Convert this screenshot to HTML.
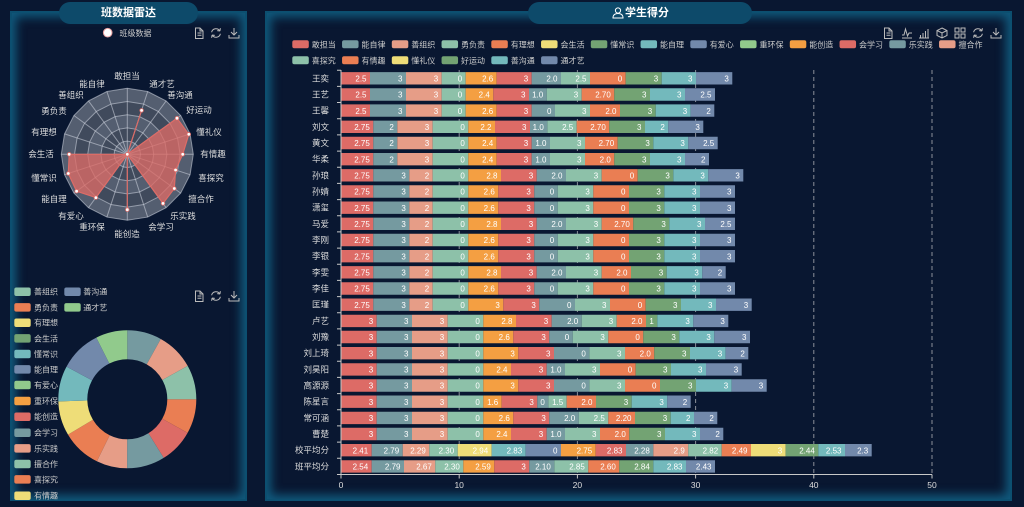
<!DOCTYPE html>
<html><head><meta charset="utf-8">
<style>
html,body{margin:0;padding:0;background:#091731;}
body{width:1024px;height:507px;position:relative;overflow:hidden;font-family:"Liberation Sans","Noto Sans CJK SC",sans-serif;}
.panel{position:absolute;border:2px solid #0c4f70;box-shadow:inset 0 0 10px 4px rgba(20,120,160,.7);box-sizing:border-box;}
.tab{position:absolute;background:#0d4a6a;border-radius:12px;color:#fff;font-weight:bold;font-size:11px;text-align:center;line-height:22px;height:22px;top:2px;}
svg{position:absolute;left:0;top:0;}
text{font-family:"Liberation Sans","Noto Sans CJK SC",sans-serif;}
.a{stroke:#dd6b66;fill:#dd6b66}.b{stroke:#759aa0;fill:#759aa0}.c{stroke:#e69d87;fill:#e69d87}.d{stroke:#8dc1a9;fill:#8dc1a9}
.e{stroke:#ea7e53;fill:#ea7e53}.f{stroke:#eedd78;fill:#eedd78}.g{stroke:#73a373;fill:#73a373}.h{stroke:#73b9bc;fill:#73b9bc}
.i{stroke:#7289ab;fill:#7289ab}.j{stroke:#91ca8c;fill:#91ca8c}.k{stroke:#f49f42;fill:#f49f42}
rect.a,rect.b,rect.c,rect.d,rect.e,rect.f,rect.g,rect.h,rect.i,rect.j,rect.k{stroke:none}
.bars path{stroke-width:12.4;fill:none}
.t text{font-size:8px;fill:#fff;text-anchor:end}
.lg text{font-size:8px;fill:#ccc}
.yl text{font-size:8.5px;fill:#ddd;text-anchor:end}
.xl text{font-size:8.5px;fill:#ddd;text-anchor:middle}
.rl text{font-size:8.5px;fill:#ddd;text-anchor:middle}
.ic path{stroke:#bbb;stroke-width:1;fill:none}
</style></head><body>
<div class="panel" style="left:10px;top:11px;width:237px;height:490px;"></div>
<div class="panel" style="left:265px;top:11px;width:747px;height:490px;"></div>
<div class="tab" style="left:59px;width:139px;">班数据雷达</div>
<div class="tab" style="left:528px;width:224px;"><span style="display:inline-block;width:14px;"></span>学生得分</div>

<svg width="1024" height="507" viewBox="0 0 1024 507">
<defs>
<polygon id="rp" points="0,-66 -20.39,-62.77 -38.8,-53.39 -53.39,-38.8 -62.77,-20.39 -66,0 -62.77,20.39 -53.39,38.8 -38.8,53.39 -20.39,62.77 0,66 20.39,62.77 38.8,53.39 53.39,38.8 62.77,20.39 66,0 62.77,-20.39 53.39,-38.8 38.8,-53.39 20.39,-62.77"/>
<g id="r7" class="bars">
<path class="a" stroke-width="12.4" d="M341 6H373.3"/><path class="b" stroke-width="12.4" d="M373.3 6H409.3"/><path class="c" stroke-width="12.4" d="M409.3 6H432.7"/><path class="d" stroke-width="12.4" d="M432.7 6H468.3"/><path class="k" stroke-width="12.4" d="M468.3 6H498.3"/><path class="a" stroke-width="12.4" d="M498.3 6H534.3"/><path class="b" stroke-width="12.4" d="M534.3 6H557.7"/><path class="d" stroke-width="12.4" d="M557.7 6H593.3"/><path class="e" stroke-width="12.4" d="M593.3 6H629"/><path class="g" stroke-width="12.4" d="M629 6H664.3"/><path class="h" stroke-width="12.4" d="M664.3 6H700"/><path class="i" stroke-width="12.4" d="M700 6H735"/>
<g class="t" transform="translate(-3.5,9.2)"><text x="373.3">2.75</text><text x="409.3">3</text><text x="432.7">2</text><text x="468.3">0</text><text x="498.3">2.6</text><text x="534.3">3</text><text x="557.7">0</text><text x="593.3">3</text><text x="629">0</text><text x="664.3">3</text><text x="700">3</text><text x="735">3</text></g>
</g>
</defs>

<!-- person icon in tab -->
<g transform="translate(618,13)" fill="none" stroke="#fff" stroke-width="1"><circle cx="0" cy="-2.5" r="2.6"/><path d="M-5 5c0-3 2-4.5 5-4.5s5 1.5 5 4.5z"/></g>

<!-- ===== LEFT TOP: radar ===== -->
<circle cx="107.7" cy="32.7" r="4.3" fill="#fff" stroke="#e8a0a0" stroke-width="1"/>
<g class="lg"><text x="119.5" y="35.8">班级数据</text></g>
<g class="ic">
<g transform="translate(199,33)"><path d="M-3.5-5h4.5l3 3v7.5h-7.5z M1-5v3h3 M-1.5 0h4 M-1.5 2.2h4"/></g>
<g transform="translate(216,33)"><path d="M3.9-2A4.5 4.5 0 0 0-4.4-0.8 M-3.9 2A4.5 4.5 0 0 0 4.4 0.8 M3.9-2l0.5-2.8 M3.9-2l-2.7-0.4 M-3.9 2l-0.5 2.8 M-3.9 2l2.7 0.4"/></g>
<g transform="translate(234,33)"><path d="M0-5v7 M-3-1l3 3 3-3 M-5 2v3h10v-3"/></g>
</g>

<g transform="translate(127.3,154.3)">
<use href="#rp" fill="#545e70" stroke="rgba(210,215,225,0.55)" stroke-width="1"/>
<use href="#rp" transform="scale(0.8)" fill="#404a5c" stroke="rgba(210,215,225,0.55)" stroke-width="1.25"/>
<use href="#rp" transform="scale(0.6)" fill="#545e70" stroke="rgba(210,215,225,0.55)" stroke-width="1.667"/>
<use href="#rp" transform="scale(0.4)" fill="#404a5c" stroke="rgba(210,215,225,0.55)" stroke-width="2.5"/>
<use href="#rp" transform="scale(0.2)" fill="#545e70" stroke="rgba(210,215,225,0.55)" stroke-width="5"/>
<path stroke="rgba(210,215,225,0.55)" stroke-width="1" d="M0 0L0 -66M0 0L-20.39 -62.77M0 0L-38.8 -53.39M0 0L-53.39 -38.8M0 0L-62.77 -20.39M0 0L-66 0M0 0L-62.77 20.39M0 0L-53.39 38.8M0 0L-38.8 53.39M0 0L-20.39 62.77M0 0L0 66M0 0L20.39 62.77M0 0L38.8 53.39M0 0L53.39 38.8M0 0L62.77 20.39M0 0L66 0M0 0L62.77 -20.39M0 0L53.39 -38.8M0 0L38.8 -53.39M0 0L20.39 -62.77"/>
<polygon points="0,0 0,0 0,0 0,0 0,0 -58.1,0 -59,19.2 -50.7,36.9 -31.4,43.3 0,0 0,55.4 0,0 35.7,49.1 47,34.2 48.3,15.7 55.4,0 61.5,-20 49.7,-36.1 0,0 14.3,-43.9" fill="rgba(221,107,102,0.78)" stroke="#dd6b66" stroke-width="1.2" stroke-linejoin="round"/>
<g fill="#fff" stroke="#dd6b66" stroke-width="0.8">
<circle cx="0" cy="0" r="1.8"/><circle cx="-58.1" cy="0" r="1.8"/><circle cx="-59" cy="19.2" r="1.8"/><circle cx="-50.7" cy="36.9" r="1.8"/><circle cx="-31.4" cy="43.3" r="1.8"/><circle cx="0" cy="55.4" r="1.8"/><circle cx="35.7" cy="49.1" r="1.8"/><circle cx="47" cy="34.2" r="1.8"/><circle cx="48.3" cy="15.7" r="1.8"/><circle cx="55.4" cy="0" r="1.8"/><circle cx="61.5" cy="-20" r="1.8"/><circle cx="49.7" cy="-36.1" r="1.8"/><circle cx="14.3" cy="-43.9" r="1.8"/>
</g>
</g>
<g class="rl">
<text x="127" y="79">敢担当</text><text x="162" y="87">通才艺</text><text x="180" y="98">善沟通</text><text x="199" y="113">好运动</text><text x="209" y="135">懂礼仪</text><text x="213" y="157">有情趣</text><text x="211" y="181">喜探究</text><text x="201" y="202">擅合作</text><text x="183" y="219">乐实践</text><text x="161" y="230">会学习</text><text x="127" y="237">能创造</text><text x="92" y="230">重环保</text><text x="71" y="219">有爱心</text><text x="54" y="202">能自理</text><text x="44" y="181">懂常识</text><text x="41" y="157">会生活</text><text x="44" y="135">有理想</text><text x="54" y="114">勇负责</text><text x="71" y="98">善组织</text><text x="92" y="87">能自律</text>
</g>

<!-- ===== LEFT BOTTOM: pie ===== -->
<g class="ic">
<g transform="translate(199,296)"><path d="M-3.5-5h4.5l3 3v7.5h-7.5z M1-5v3h3 M-1.5 0h4 M-1.5 2.2h4"/></g>
<g transform="translate(216,296)"><path d="M3.9-2A4.5 4.5 0 0 0-4.4-0.8 M-3.9 2A4.5 4.5 0 0 0 4.4 0.8 M3.9-2l0.5-2.8 M3.9-2l-2.7-0.4 M-3.9 2l-0.5 2.8 M-3.9 2l2.7 0.4"/></g>
<g transform="translate(234,296)"><path d="M0-5v7 M-3-1l3 3 3-3 M-5 2v3h10v-3"/></g>
</g>
<g class="lg">
<rect class="d" x="14.3" y="287.5" width="16.4" height="8.5" rx="2"/><text x="34" y="294.7">善组织</text>
<rect class="i" x="64.3" y="287.5" width="16.4" height="8.5" rx="2"/><text x="83.3" y="294.7">善沟通</text>
<rect class="e" x="14.3" y="303.1" width="16.4" height="8.5" rx="2"/><text x="34" y="310.3">勇负责</text>
<rect class="j" x="64.3" y="303.1" width="16.4" height="8.5" rx="2"/><text x="83.3" y="310.3">通才艺</text>
<rect class="f" x="14.3" y="318.5" width="16.4" height="8.5" rx="2"/><text x="34" y="325.7">有理想</text>
<rect class="g" x="14.3" y="334.1" width="16.4" height="8.5" rx="2"/><text x="34" y="341.3">会生活</text>
<rect class="h" x="14.3" y="349.8" width="16.4" height="8.5" rx="2"/><text x="34" y="357">懂常识</text>
<rect class="i" x="14.3" y="365.1" width="16.4" height="8.5" rx="2"/><text x="34" y="372.3">能自理</text>
<rect class="j" x="14.3" y="380.8" width="16.4" height="8.5" rx="2"/><text x="34" y="388">有爱心</text>
<rect class="k" x="14.3" y="396.8" width="16.4" height="8.5" rx="2"/><text x="34" y="404">重环保</text>
<rect class="a" x="14.3" y="412.5" width="16.4" height="8.5" rx="2"/><text x="34" y="419.7">能创造</text>
<rect class="b" x="14.3" y="428.5" width="16.4" height="8.5" rx="2"/><text x="34" y="435.7">会学习</text>
<rect class="c" x="14.3" y="444.1" width="16.4" height="8.5" rx="2"/><text x="34" y="451.3">乐实践</text>
<rect class="d" x="14.3" y="459.8" width="16.4" height="8.5" rx="2"/><text x="34" y="467">擅合作</text>
<rect class="e" x="14.3" y="475.1" width="16.4" height="8.5" rx="2"/><text x="34" y="482.3">喜探究</text>
<rect class="f" x="14.3" y="491.5" width="16.4" height="8.5" rx="2"/><text x="34" y="498.7">有情趣</text>
</g>
<g transform="rotate(-90 127.3 399.3)" fill="none" stroke-width="29">
<circle cx="127.3" cy="399.3" r="54.5" stroke="#759aa0" stroke-dasharray="27.58 400" stroke-dashoffset="0"/>
<circle cx="127.3" cy="399.3" r="54.5" stroke="#e69d87" stroke-dasharray="30.44 400" stroke-dashoffset="-27.58"/>
<circle cx="127.3" cy="399.3" r="54.5" stroke="#8dc1a9" stroke-dasharray="27.58 400" stroke-dashoffset="-58.02"/>
<circle cx="127.3" cy="399.3" r="54.5" stroke="#ea7e53" stroke-dasharray="27.58 400" stroke-dashoffset="-85.61"/>
<circle cx="127.3" cy="399.3" r="54.5" stroke="#dd6b66" stroke-dasharray="27.58 400" stroke-dashoffset="-113.19"/>
<circle cx="127.3" cy="399.3" r="54.5" stroke="#759aa0" stroke-dasharray="30.44 400" stroke-dashoffset="-140.78"/>
<circle cx="127.3" cy="399.3" r="54.5" stroke="#e69d87" stroke-dasharray="24.73 400" stroke-dashoffset="-171.22"/>
<circle cx="127.3" cy="399.3" r="54.5" stroke="#ea7e53" stroke-dasharray="31.39 400" stroke-dashoffset="-195.95"/>
<circle cx="127.3" cy="399.3" r="54.5" stroke="#eedd78" stroke-dasharray="27.58 400" stroke-dashoffset="-227.34"/>
<circle cx="127.3" cy="399.3" r="54.5" stroke="#73b9bc" stroke-dasharray="28.54 400" stroke-dashoffset="-254.92"/>
<circle cx="127.3" cy="399.3" r="54.5" stroke="#7289ab" stroke-dasharray="33.29 400" stroke-dashoffset="-283.46"/>
<circle cx="127.3" cy="399.3" r="54.5" stroke="#91ca8c" stroke-dasharray="25.68 400" stroke-dashoffset="-316.75"/>
</g>

<!-- ===== RIGHT: toolbox ===== -->
<g class="ic">
<g transform="translate(888,33)"><path d="M-3.5-5h4.5l3 3v7.5h-7.5z M1-5v3h3 M-1.5 0h4 M-1.5 2.2h4"/></g>
<g transform="translate(907,33)"><path d="M-5 5h10 M-5 2h2l1.5-6 2 7 1.5-3h3"/></g>
<g transform="translate(924,33)"><path d="M-5 5h10 M-3.5 5v-3 M-1 5v-5 M1.5 5v-7 M4 5v-9"/></g>
<g transform="translate(942,33)"><path d="M0-5l5 2.5v5L0 5l-5-2.5v-5z M-5-2.5L0 0l5-2.5 M0 0v5"/></g>
<g transform="translate(960,33)"><path d="M-5-5h4v4h-4z M1-5h4v4h-4z M-5 1h4v4h-4z M1 1h4v4h-4z"/></g>
<g transform="translate(978,33)"><path d="M3.9-2A4.5 4.5 0 0 0-4.4-0.8 M-3.9 2A4.5 4.5 0 0 0 4.4 0.8 M3.9-2l0.5-2.8 M3.9-2l-2.7-0.4 M-3.9 2l-0.5 2.8 M-3.9 2l2.7 0.4"/></g>
<g transform="translate(996,33)"><path d="M0-5v7 M-3-1l3 3 3-3 M-5 2v3h10v-3"/></g>
</g>

<!-- legend -->
<g class="lg">
<rect class="a" x="292.3" y="40.3" width="16.5" height="8" rx="2"/><text x="311.8" y="47.3">敢担当</text>
<rect class="b" x="342.05" y="40.3" width="16.5" height="8" rx="2"/><text x="361.55" y="47.3">能自律</text>
<rect class="c" x="391.8" y="40.3" width="16.5" height="8" rx="2"/><text x="411.3" y="47.3">善组织</text>
<rect class="d" x="441.55" y="40.3" width="16.5" height="8" rx="2"/><text x="461.05" y="47.3">勇负责</text>
<rect class="e" x="491.3" y="40.3" width="16.5" height="8" rx="2"/><text x="510.8" y="47.3">有理想</text>
<rect class="f" x="541.05" y="40.3" width="16.5" height="8" rx="2"/><text x="560.55" y="47.3">会生活</text>
<rect class="g" x="590.8" y="40.3" width="16.5" height="8" rx="2"/><text x="610.3" y="47.3">懂常识</text>
<rect class="h" x="640.55" y="40.3" width="16.5" height="8" rx="2"/><text x="660.05" y="47.3">能自理</text>
<rect class="i" x="690.3" y="40.3" width="16.5" height="8" rx="2"/><text x="709.8" y="47.3">有爱心</text>
<rect class="j" x="740.05" y="40.3" width="16.5" height="8" rx="2"/><text x="759.55" y="47.3">重环保</text>
<rect class="k" x="789.8" y="40.3" width="16.5" height="8" rx="2"/><text x="809.3" y="47.3">能创造</text>
<rect class="a" x="839.55" y="40.3" width="16.5" height="8" rx="2"/><text x="859.05" y="47.3">会学习</text>
<rect class="b" x="889.3" y="40.3" width="16.5" height="8" rx="2"/><text x="908.8" y="47.3">乐实践</text>
<rect class="c" x="939.05" y="40.3" width="16.5" height="8" rx="2"/><text x="958.55" y="47.3">擅合作</text>
<rect class="d" x="292.3" y="56.3" width="16.5" height="8" rx="2"/><text x="311.8" y="63.3">喜探究</text>
<rect class="e" x="342.05" y="56.3" width="16.5" height="8" rx="2"/><text x="361.55" y="63.3">有情趣</text>
<rect class="f" x="391.8" y="56.3" width="16.5" height="8" rx="2"/><text x="411.3" y="63.3">懂礼仪</text>
<rect class="g" x="441.55" y="56.3" width="16.5" height="8" rx="2"/><text x="461.05" y="63.3">好运动</text>
<rect class="h" x="491.3" y="56.3" width="16.5" height="8" rx="2"/><text x="510.8" y="63.3">善沟通</text>
<rect class="i" x="541.05" y="56.3" width="16.5" height="8" rx="2"/><text x="560.55" y="63.3">通才艺</text>
</g>

<!-- grid -->
<path d="M459.2 70V474.5M577.4 70V474.5M695.6 70V474.5M813.8 70V474.5M932 70V474.5" stroke="#8a8f99" stroke-width="1" stroke-dasharray="4 3" fill="none"/>

<!-- bars -->
<g class="bars">
<g transform="translate(0,72.3)">
<path class="a" d="M341 6H370"/><path class="b" d="M370 6H406"/><path class="c" d="M406 6H441.7"/><path class="d" d="M441.7 6H465.7"/><path class="k" d="M465.7 6H496.7"/><path class="a" d="M496.7 6H531.7"/><path class="b" d="M531.7 6H561"/><path class="d" d="M561 6H590"/><path class="e" d="M590 6H625.7"/><path class="g" d="M625.7 6H661.7"/><path class="h" d="M661.7 6H696"/><path class="i" d="M696 6H732.3"/>
<g class="t" transform="translate(-3.5,9.2)"><text x="370">2.5</text><text x="406">3</text><text x="441.7">3</text><text x="465.7">0</text><text x="496.7">2.6</text><text x="531.7">3</text><text x="561">2.0</text><text x="590">2.5</text><text x="625.7">0</text><text x="661.7">3</text><text x="696">3</text><text x="732.3">3</text></g>
</g>
<g transform="translate(0,88.5)">
<path class="a" d="M341 6H370"/><path class="b" d="M370 6H406"/><path class="c" d="M406 6H441.7"/><path class="d" d="M441.7 6H465.7"/><path class="k" d="M465.7 6H493.3"/><path class="a" d="M493.3 6H529"/><path class="b" d="M529 6H546.7"/><path class="d" d="M546.7 6H581.7"/><path class="e" d="M581.7 6H614.3"/><path class="g" d="M614.3 6H650"/><path class="h" d="M650 6H685"/><path class="i" d="M685 6H715"/>
<g class="t" transform="translate(-3.5,9.2)"><text x="370">2.5</text><text x="406">3</text><text x="441.7">3</text><text x="465.7">0</text><text x="493.3">2.4</text><text x="529">3</text><text x="546.7">1.0</text><text x="581.7">3</text><text x="614.3">2.70</text><text x="650">3</text><text x="685">3</text><text x="715">2.5</text></g>
</g>
<g transform="translate(0,104.6)">
<path class="a" d="M341 6H370"/><path class="b" d="M370 6H406"/><path class="c" d="M406 6H441.7"/><path class="d" d="M441.7 6H465.7"/><path class="k" d="M465.7 6H496.7"/><path class="a" d="M496.7 6H531.7"/><path class="b" d="M531.7 6H555"/><path class="d" d="M555 6H590"/><path class="e" d="M590 6H620"/><path class="g" d="M620 6H655.7"/><path class="h" d="M655.7 6H690.7"/><path class="i" d="M690.7 6H714.3"/>
<g class="t" transform="translate(-3.5,9.2)"><text x="370">2.5</text><text x="406">3</text><text x="441.7">3</text><text x="465.7">0</text><text x="496.7">2.6</text><text x="531.7">3</text><text x="555">0</text><text x="590">3</text><text x="620">2.0</text><text x="655.7">3</text><text x="690.7">3</text><text x="714.3">2</text></g>
</g>
<g transform="translate(0,120.8)">
<path class="a" d="M341 6H373.3"/><path class="b" d="M373.3 6H397.3"/><path class="c" d="M397.3 6H432.7"/><path class="d" d="M432.7 6H468.3"/><path class="k" d="M468.3 6H495"/><path class="a" d="M495 6H530"/><path class="b" d="M530 6H547.3"/><path class="d" d="M547.3 6H576.7"/><path class="e" d="M576.7 6H609.3"/><path class="g" d="M609.3 6H645"/><path class="h" d="M645 6H668.3"/><path class="i" d="M668.3 6H703.3"/>
<g class="t" transform="translate(-3.5,9.2)"><text x="373.3">2.75</text><text x="397.3">2</text><text x="432.7">3</text><text x="468.3">0</text><text x="495">2.2</text><text x="530">3</text><text x="547.3">1.0</text><text x="576.7">2.5</text><text x="609.3">2.70</text><text x="645">3</text><text x="668.3">2</text><text x="703.3">3</text></g>
</g>
<g transform="translate(0,137)">
<path class="a" d="M341 6H373.3"/><path class="b" d="M373.3 6H397.3"/><path class="c" d="M397.3 6H432.7"/><path class="d" d="M432.7 6H468.3"/><path class="k" d="M468.3 6H496.7"/><path class="a" d="M496.7 6H531.7"/><path class="b" d="M531.7 6H550"/><path class="d" d="M550 6H585"/><path class="e" d="M585 6H617.7"/><path class="g" d="M617.7 6H653.3"/><path class="h" d="M653.3 6H688.3"/><path class="i" d="M688.3 6H717.7"/>
<g class="t" transform="translate(-3.5,9.2)"><text x="373.3">2.75</text><text x="397.3">2</text><text x="432.7">3</text><text x="468.3">0</text><text x="496.7">2.4</text><text x="531.7">3</text><text x="550">1.0</text><text x="585">3</text><text x="617.7">2.70</text><text x="653.3">3</text><text x="688.3">3</text><text x="717.7">2.5</text></g>
</g>
<g transform="translate(0,153.2)">
<path class="a" d="M341 6H373.3"/><path class="b" d="M373.3 6H397.3"/><path class="c" d="M397.3 6H432.7"/><path class="d" d="M432.7 6H468.3"/><path class="k" d="M468.3 6H496.7"/><path class="a" d="M496.7 6H531.7"/><path class="b" d="M531.7 6H550"/><path class="d" d="M550 6H585"/><path class="e" d="M585 6H614.3"/><path class="g" d="M614.3 6H650"/><path class="h" d="M650 6H685"/><path class="i" d="M685 6H709"/>
<g class="t" transform="translate(-3.5,9.2)"><text x="373.3">2.75</text><text x="397.3">2</text><text x="432.7">3</text><text x="468.3">0</text><text x="496.7">2.4</text><text x="531.7">3</text><text x="550">1.0</text><text x="585">3</text><text x="614.3">2.0</text><text x="650">3</text><text x="685">3</text><text x="709">2</text></g>
</g>
<g transform="translate(0,169.3)">
<path class="a" d="M341 6H373.3"/><path class="b" d="M373.3 6H409.3"/><path class="c" d="M409.3 6H432.7"/><path class="d" d="M432.7 6H468.3"/><path class="k" d="M468.3 6H501"/><path class="a" d="M501 6H536.7"/><path class="b" d="M536.7 6H566"/><path class="d" d="M566 6H601.7"/><path class="e" d="M601.7 6H637.7"/><path class="g" d="M637.7 6H673.3"/><path class="h" d="M673.3 6H708.3"/><path class="i" d="M708.3 6H743.3"/>
<g class="t" transform="translate(-3.5,9.2)"><text x="373.3">2.75</text><text x="409.3">3</text><text x="432.7">2</text><text x="468.3">0</text><text x="501">2.8</text><text x="536.7">3</text><text x="566">2.0</text><text x="601.7">3</text><text x="637.7">0</text><text x="673.3">3</text><text x="708.3">3</text><text x="743.3">3</text></g>
</g>
<use href="#r7" transform="translate(0,185.5)"/>
<use href="#r7" transform="translate(0,201.7)"/>
<g transform="translate(0,217.8)">
<path class="a" d="M341 6H373.3"/><path class="b" d="M373.3 6H409.3"/><path class="c" d="M409.3 6H432.7"/><path class="d" d="M432.7 6H468.3"/><path class="k" d="M468.3 6H501"/><path class="a" d="M501 6H536.7"/><path class="b" d="M536.7 6H566"/><path class="d" d="M566 6H601.7"/><path class="e" d="M601.7 6H633.3"/><path class="g" d="M633.3 6H669.3"/><path class="h" d="M669.3 6H705"/><path class="i" d="M705 6H735"/>
<g class="t" transform="translate(-3.5,9.2)"><text x="373.3">2.75</text><text x="409.3">3</text><text x="432.7">2</text><text x="468.3">0</text><text x="501">2.8</text><text x="536.7">3</text><text x="566">2.0</text><text x="601.7">3</text><text x="633.3">2.70</text><text x="669.3">3</text><text x="705">3</text><text x="735">2.5</text></g>
</g>
<use href="#r7" transform="translate(0,234)"/>
<use href="#r7" transform="translate(0,250.2)"/>
<g transform="translate(0,266.3)">
<path class="a" d="M341 6H373.3"/><path class="b" d="M373.3 6H409.3"/><path class="c" d="M409.3 6H432.7"/><path class="d" d="M432.7 6H468.3"/><path class="k" d="M468.3 6H501"/><path class="a" d="M501 6H536.7"/><path class="b" d="M536.7 6H566"/><path class="d" d="M566 6H601.7"/><path class="e" d="M601.7 6H631"/><path class="g" d="M631 6H666.7"/><path class="h" d="M666.7 6H702.3"/><path class="i" d="M702.3 6H725.7"/>
<g class="t" transform="translate(-3.5,9.2)"><text x="373.3">2.75</text><text x="409.3">3</text><text x="432.7">2</text><text x="468.3">0</text><text x="501">2.8</text><text x="536.7">3</text><text x="566">2.0</text><text x="601.7">3</text><text x="631">2.0</text><text x="666.7">3</text><text x="702.3">3</text><text x="725.7">2</text></g>
</g>
<use href="#r7" transform="translate(0,282.5)"/>
<g transform="translate(0,298.7)">
<path class="a" d="M341 6H373.3"/><path class="b" d="M373.3 6H409.3"/><path class="c" d="M409.3 6H432.7"/><path class="d" d="M432.7 6H468.3"/><path class="k" d="M468.3 6H503.3"/><path class="a" d="M503.3 6H539.3"/><path class="b" d="M539.3 6H575"/><path class="d" d="M575 6H610"/><path class="e" d="M610 6H645.7"/><path class="g" d="M645.7 6H681"/><path class="h" d="M681 6H716"/><path class="i" d="M716 6H751.7"/>
<g class="t" transform="translate(-3.5,9.2)"><text x="373.3">2.75</text><text x="409.3">3</text><text x="432.7">2</text><text x="468.3">0</text><text x="503.3">3</text><text x="539.3">3</text><text x="575">0</text><text x="610">3</text><text x="645.7">0</text><text x="681">3</text><text x="716">3</text><text x="751.7">3</text></g>
</g>
<g transform="translate(0,314.9)">
<path class="a" d="M341 6H376.7"/><path class="b" d="M376.7 6H412"/><path class="c" d="M412 6H447.7"/><path class="d" d="M447.7 6H483.3"/><path class="k" d="M483.3 6H516"/><path class="a" d="M516 6H551.7"/><path class="b" d="M551.7 6H581.7"/><path class="d" d="M581.7 6H616.7"/><path class="e" d="M616.7 6H646"/><path class="g" d="M646 6H657.3"/><path class="h" d="M657.3 6H693.3"/><path class="i" d="M693.3 6H728.3"/>
<g class="t" transform="translate(-3.5,9.2)"><text x="376.7">3</text><text x="412">3</text><text x="447.7">3</text><text x="483.3">0</text><text x="516">2.8</text><text x="551.7">3</text><text x="581.7">2.0</text><text x="616.7">3</text><text x="646">2.0</text><text x="657.3">1</text><text x="693.3">3</text><text x="728.3">3</text></g>
</g>
<g transform="translate(0,331)">
<path class="a" d="M341 6H376.7"/><path class="b" d="M376.7 6H412"/><path class="c" d="M412 6H447.7"/><path class="d" d="M447.7 6H483.3"/><path class="k" d="M483.3 6H513.3"/><path class="a" d="M513.3 6H549.3"/><path class="b" d="M549.3 6H572.7"/><path class="d" d="M572.7 6H608.3"/><path class="e" d="M608.3 6H643.3"/><path class="g" d="M643.3 6H679.3"/><path class="h" d="M679.3 6H714.3"/><path class="i" d="M714.3 6H750"/>
<g class="t" transform="translate(-3.5,9.2)"><text x="376.7">3</text><text x="412">3</text><text x="447.7">3</text><text x="483.3">0</text><text x="513.3">2.6</text><text x="549.3">3</text><text x="572.7">0</text><text x="608.3">3</text><text x="643.3">0</text><text x="679.3">3</text><text x="714.3">3</text><text x="750">3</text></g>
</g>
<g transform="translate(0,347.2)">
<path class="a" d="M341 6H376.7"/><path class="b" d="M376.7 6H412"/><path class="c" d="M412 6H447.7"/><path class="d" d="M447.7 6H483.3"/><path class="k" d="M483.3 6H518.3"/><path class="a" d="M518.3 6H554"/><path class="b" d="M554 6H589.3"/><path class="d" d="M589.3 6H625"/><path class="e" d="M625 6H654.3"/><path class="g" d="M654.3 6H690"/><path class="h" d="M690 6H725.7"/><path class="i" d="M725.7 6H748.3"/>
<g class="t" transform="translate(-3.5,9.2)"><text x="376.7">3</text><text x="412">3</text><text x="447.7">3</text><text x="483.3">0</text><text x="518.3">3</text><text x="554">3</text><text x="589.3">0</text><text x="625">3</text><text x="654.3">2.0</text><text x="690">3</text><text x="725.7">3</text><text x="748.3">2</text></g>
</g>
<g transform="translate(0,363.4)">
<path class="a" d="M341 6H376.7"/><path class="b" d="M376.7 6H412"/><path class="c" d="M412 6H447.7"/><path class="d" d="M447.7 6H483.3"/><path class="k" d="M483.3 6H511"/><path class="a" d="M511 6H546.7"/><path class="b" d="M546.7 6H565"/><path class="d" d="M565 6H600"/><path class="e" d="M600 6H635.7"/><path class="g" d="M635.7 6H671"/><path class="h" d="M671 6H706"/><path class="i" d="M706 6H741.7"/>
<g class="t" transform="translate(-3.5,9.2)"><text x="376.7">3</text><text x="412">3</text><text x="447.7">3</text><text x="483.3">0</text><text x="511">2.4</text><text x="546.7">3</text><text x="565">1.0</text><text x="600">3</text><text x="635.7">0</text><text x="671">3</text><text x="706">3</text><text x="741.7">3</text></g>
</g>
<g transform="translate(0,379.5)">
<path class="a" d="M341 6H376.7"/><path class="b" d="M376.7 6H412"/><path class="c" d="M412 6H447.7"/><path class="d" d="M447.7 6H483.3"/><path class="k" d="M483.3 6H518.3"/><path class="a" d="M518.3 6H554"/><path class="b" d="M554 6H589.3"/><path class="d" d="M589.3 6H625"/><path class="e" d="M625 6H660"/><path class="g" d="M660 6H696"/><path class="h" d="M696 6H731.7"/><path class="i" d="M731.7 6H766.7"/>
<g class="t" transform="translate(-3.5,9.2)"><text x="376.7">3</text><text x="412">3</text><text x="447.7">3</text><text x="483.3">0</text><text x="518.3">3</text><text x="554">3</text><text x="589.3">0</text><text x="625">3</text><text x="660">0</text><text x="696">3</text><text x="731.7">3</text><text x="766.7">3</text></g>
</g>
<g transform="translate(0,395.7)">
<path class="a" d="M341 6H376.7"/><path class="b" d="M376.7 6H412"/><path class="c" d="M412 6H447.7"/><path class="d" d="M447.7 6H483.3"/><path class="k" d="M483.3 6H501.7"/><path class="a" d="M501.7 6H537.3"/><path class="b" d="M537.3 6H548.3"/><path class="d" d="M548.3 6H566.7"/><path class="e" d="M566.7 6H596"/><path class="g" d="M596 6H631.7"/><path class="h" d="M631.7 6H667.3"/><path class="i" d="M667.3 6H690.7"/>
<g class="t" transform="translate(-3.5,9.2)"><text x="376.7">3</text><text x="412">3</text><text x="447.7">3</text><text x="483.3">0</text><text x="501.7">1.6</text><text x="537.3">3</text><text x="548.3">0</text><text x="566.7">1.5</text><text x="596">2.0</text><text x="631.7">3</text><text x="667.3">3</text><text x="690.7">2</text></g>
</g>
<g transform="translate(0,411.9)">
<path class="a" d="M341 6H376.7"/><path class="b" d="M376.7 6H412"/><path class="c" d="M412 6H447.7"/><path class="d" d="M447.7 6H483.3"/><path class="k" d="M483.3 6H513.3"/><path class="a" d="M513.3 6H549.3"/><path class="b" d="M549.3 6H578.7"/><path class="d" d="M578.7 6H608.3"/><path class="e" d="M608.3 6H635"/><path class="g" d="M635 6H670.7"/><path class="h" d="M670.7 6H694"/><path class="i" d="M694 6H717.3"/>
<g class="t" transform="translate(-3.5,9.2)"><text x="376.7">3</text><text x="412">3</text><text x="447.7">3</text><text x="483.3">0</text><text x="513.3">2.6</text><text x="549.3">3</text><text x="578.7">2.0</text><text x="608.3">2.5</text><text x="635">2.20</text><text x="670.7">3</text><text x="694">2</text><text x="717.3">2</text></g>
</g>
<g transform="translate(0,428)">
<path class="a" d="M341 6H376.7"/><path class="b" d="M376.7 6H412"/><path class="c" d="M412 6H447.7"/><path class="d" d="M447.7 6H483.3"/><path class="k" d="M483.3 6H511"/><path class="a" d="M511 6H546.7"/><path class="b" d="M546.7 6H565"/><path class="d" d="M565 6H600"/><path class="e" d="M600 6H629.3"/><path class="g" d="M629.3 6H665"/><path class="h" d="M665 6H700"/><path class="i" d="M700 6H723.3"/>
<g class="t" transform="translate(-3.5,9.2)"><text x="376.7">3</text><text x="412">3</text><text x="447.7">3</text><text x="483.3">0</text><text x="511">2.4</text><text x="546.7">3</text><text x="565">1.0</text><text x="600">3</text><text x="629.3">2.0</text><text x="665">3</text><text x="700">3</text><text x="723.3">2</text></g>
</g>
<g transform="translate(0,444.2)">
<path class="a" d="M341 6H371.7"/><path class="b" d="M371.7 6H402.7"/><path class="c" d="M402.7 6H429.3"/><path class="d" d="M429.3 6H457.7"/><path class="f" d="M457.7 6H491.7"/><path class="h" d="M491.7 6H525.7"/><path class="i" d="M525.7 6H561"/><path class="k" d="M561 6H595.7"/><path class="a" d="M595.7 6H626"/><path class="b" d="M626 6H653.3"/><path class="c" d="M653.3 6H688.3"/><path class="d" d="M688.3 6H721.7"/><path class="e" d="M721.7 6H751"/><path class="f" d="M751 6H785.7"/><path class="g" d="M785.7 6H818.3"/><path class="h" d="M818.3 6H845"/><path class="i" d="M845 6H871.7"/>
<g class="t" transform="translate(-3.5,9.2)"><text x="371.7">2.41</text><text x="402.7">2.79</text><text x="429.3">2.29</text><text x="457.7">2.30</text><text x="491.7">2.94</text><text x="525.7">2.83</text><text x="561">0</text><text x="595.7">2.75</text><text x="626">2.83</text><text x="653.3">2.28</text><text x="688.3">2.9</text><text x="721.7">2.82</text><text x="751">2.49</text><text x="785.7">3</text><text x="818.3">2.44</text><text x="845">2.53</text><text x="871.7">2.3</text></g>
</g>
<g transform="translate(0,460.4)">
<path class="a" d="M341 6H371.7"/><path class="b" d="M371.7 6H404"/><path class="c" d="M404 6H435.3"/><path class="d" d="M435.3 6H463.3"/><path class="k" d="M463.3 6H494.3"/><path class="a" d="M494.3 6H529.3"/><path class="b" d="M529.3 6H554.3"/><path class="d" d="M554.3 6H588.3"/><path class="e" d="M588.3 6H619.3"/><path class="g" d="M619.3 6H653.3"/><path class="h" d="M653.3 6H686"/><path class="i" d="M686 6H715"/>
<g class="t" transform="translate(-3.5,9.2)"><text x="371.7">2.54</text><text x="404">2.79</text><text x="435.3">2.67</text><text x="463.3">2.30</text><text x="494.3">2.59</text><text x="529.3">3</text><text x="554.3">2.10</text><text x="588.3">2.85</text><text x="619.3">2.60</text><text x="653.3">2.84</text><text x="686">2.83</text><text x="715">2.43</text></g>
</g>
</g>

<!-- axes -->
<path d="M341 70V474.5M341 474.5H932" stroke="#c8c8c8" stroke-width="1" fill="none"/>
<path d="M341 474.5v4M459.2 474.5v4M577.4 474.5v4M695.6 474.5v4M813.8 474.5v4M932 474.5v4" stroke="#c8c8c8" stroke-width="1"/>
<path d="M337 70.2h4M337 86.4h4M337 102.5h4M337 118.7h4M337 134.9h4M337 151.1h4M337 167.2h4M337 183.4h4M337 199.6h4M337 215.7h4M337 231.9h4M337 248.1h4M337 264.2h4M337 280.4h4M337 296.6h4M337 312.8h4M337 328.9h4M337 345.1h4M337 361.3h4M337 377.4h4M337 393.6h4M337 409.8h4M337 425.9h4M337 442.1h4M337 458.3h4M337 474.5h4" stroke="#c8c8c8" stroke-width="1"/>
<g class="xl"><text x="341" y="488">0</text><text x="459.2" y="488">10</text><text x="577.4" y="488">20</text><text x="695.6" y="488">30</text><text x="813.8" y="488">40</text><text x="932" y="488">50</text></g>
<g class="yl">
<text x="329" y="81.3">王奕</text><text x="329" y="97.5">王艺</text><text x="329" y="113.6">王馨</text><text x="329" y="129.8">刘文</text><text x="329" y="146">黄文</text><text x="329" y="162.2">华柔</text><text x="329" y="178.3">孙琅</text><text x="329" y="194.5">孙婧</text><text x="329" y="210.7">潇玺</text><text x="329" y="226.8">马爱</text><text x="329" y="243">李刚</text><text x="329" y="259.2">李银</text><text x="329" y="275.3">李雯</text><text x="329" y="291.5">李佳</text><text x="329" y="307.7">匡瑾</text><text x="329" y="323.9">卢艺</text><text x="329" y="340">刘豫</text><text x="329" y="356.2">刘上琦</text><text x="329" y="372.4">刘昊阳</text><text x="329" y="388.5">高源源</text><text x="329" y="404.7">陈星言</text><text x="329" y="420.9">常可涵</text><text x="329" y="437">曹楚</text><text x="329" y="453.2">校平均分</text><text x="329" y="469.4">班平均分</text>
</g>
</svg>
</body></html>
